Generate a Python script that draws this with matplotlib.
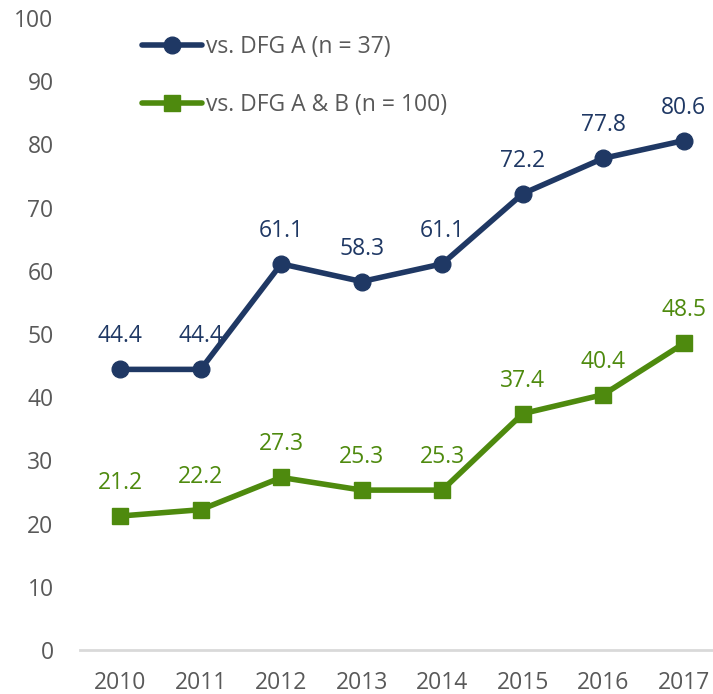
import matplotlib
matplotlib.use("Agg")
import matplotlib.pyplot as plt

years = ["2010", "2011", "2012", "2013", "2014", "2015", "2016", "2017"]
dfg_a = [44.4, 44.4, 61.1, 58.3, 61.1, 72.2, 77.8, 80.6]
dfg_ab = [21.2, 22.2, 27.3, 25.3, 25.3, 37.4, 40.4, 48.5]
label_a = "vs. DFG A (n = 37)"
label_ab = "vs. DFG A & B (n = 100)"
yticks = [0, 10, 20, 30, 40, 50, 60, 70, 80, 90, 100]

navy = "#1f3864"
green = "#4e8a0e"
tick_color = "#595959"
fs = 16.5

plt.rcParams['font.family'] = ['Open Sans', 'DejaVu Sans']

fig = plt.figure(figsize=(7.13, 6.94), dpi=100)
ax = fig.add_axes([80/713, 1-650/694, (724-80)/713, (650-18)/694])

x = list(range(len(years)))
ax.plot(x, dfg_a, color=navy, lw=4, marker='o', ms=12, label=label_a, solid_capstyle='round')
ax.plot(x, dfg_ab, color=green, lw=4, marker='s', ms=11, label=label_ab, solid_capstyle='round')

for xi, v in zip(x, dfg_a):
    ax.annotate(f"{v:.1f}", (xi, v), xytext=(0, 33), textcoords='offset pixels',
                ha='center', va='center', color=navy, fontsize=fs)
for xi, v in zip(x, dfg_ab):
    ax.annotate(f"{v:.1f}", (xi, v), xytext=(0, 33), textcoords='offset pixels',
                ha='center', va='center', color=green, fontsize=fs)

ax.set_xlim(-0.5, 7.5)
ax.set_ylim(0, 100)
ax.set_xticks(x)
ax.set_xticklabels(years)
ax.set_yticks(yticks)
for s in ['top', 'right', 'left']:
    ax.spines[s].set_visible(False)
ax.spines['bottom'].set_color('#d9d9d9')
ax.spines['bottom'].set_linewidth(2)
ax.tick_params(axis='both', length=0, colors=tick_color, labelsize=fs)
ax.tick_params(axis='y', pad=19)
ax.tick_params(axis='x', pad=15)

leg = ax.legend(loc='upper left', bbox_to_anchor=(0.065, 1.005), frameon=False,
                fontsize=fs, handlelength=2.6, handletextpad=0.15, labelspacing=1.45,
                labelcolor=tick_color)

fig.savefig("out.png", dpi=100)
